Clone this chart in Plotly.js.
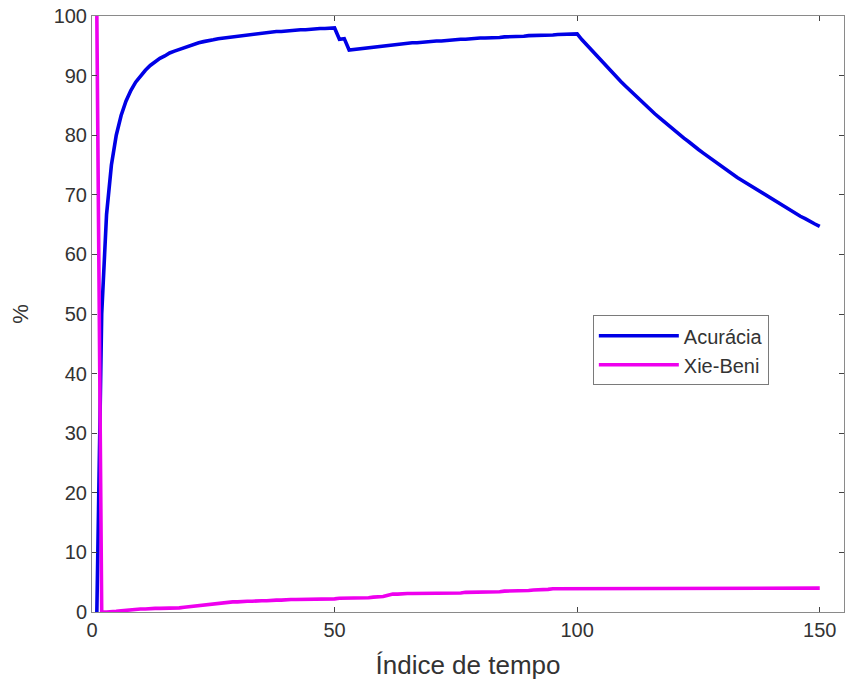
<!DOCTYPE html>
<html>
<head>
<meta charset="utf-8">
<script src="https://cdn.plot.ly/plotly-3.0.1.min.js"></script>
<style>
  html, body { margin: 0; padding: 0; background: #ffffff; }
  #chart { width: 846px; height: 690px; }
</style>
</head>
<body>
<div id="chart"></div>
<script>
// Time index (1..150)
const timeIndex = Array.from({ length: 150 }, (_, i) => i + 1);

// Accuracy (%) over time
const acuracia = [
  0, 50, 66.7, 75, 80, 83.3, 85.7, 87.5, 88.9, 90,
  90.9, 91.7, 92.3, 92.9, 93.3, 93.8, 94.1, 94.4, 94.7, 95,
  95.2, 95.5, 95.7, 95.8, 96, 96.2, 96.3, 96.4, 96.6, 96.7,
  96.8, 96.9, 97, 97.1, 97.1, 97.2, 97.3, 97.4, 97.4, 97.5,
  97.6, 97.6, 97.7, 97.7, 97.8, 97.8, 97.9, 97.9, 98, 98,
  96.1, 96.2, 94.3, 94.4, 94.5, 94.6, 94.7, 94.8, 94.9, 95.0,
  95.1, 95.2, 95.2, 95.3, 95.4, 95.5, 95.5, 95.6, 95.7, 95.7,
  95.8, 95.8, 95.9, 95.9, 96.0, 96.1, 96.1, 96.2, 96.2, 96.3,
  96.3, 96.3, 96.4, 96.4, 96.5, 96.5, 96.6, 96.6, 96.6, 96.7,
  96.7, 96.7, 96.8, 96.8, 96.8, 96.9, 96.9, 96.9, 97.0, 97.0,
  96.0, 95.1, 94.2, 93.3, 92.4, 91.5, 90.7, 89.8, 89.0, 88.2,
  87.4, 86.6, 85.8, 85.1, 84.3, 83.6, 82.9, 82.2, 81.5, 80.8,
  80.2, 79.5, 78.9, 78.2, 77.6, 77.0, 76.4, 75.8, 75.2, 74.6,
  74.0, 73.5, 72.9, 72.4, 71.9, 71.3, 70.8, 70.3, 69.8, 69.3,
  68.8, 68.3, 67.8, 67.4, 66.9, 66.4, 66.0, 65.5, 65.1, 64.7
];

// Xie-Beni index (%) over time
const xieBeni = [
  100, 0, 0, 0, 0.1, 0.2, 0.3, 0.4, 0.4, 0.5,
  0.5, 0.6, 0.6, 0.6, 0.6, 0.6, 0.7, 0.7, 0.8, 0.9,
  1.0, 1.1, 1.2, 1.3, 1.4, 1.5, 1.6, 1.6, 1.7, 1.7,
  1.8, 1.8, 1.8, 1.9, 1.9, 1.9, 2.0, 2.0, 2.0, 2.1,
  2.1, 2.1, 2.1, 2.2, 2.2, 2.2, 2.2, 2.2, 2.2, 2.2,
  2.3, 2.3, 2.3, 2.3, 2.4, 2.4, 2.4, 2.5, 2.5, 2.6,
  2.8, 3.0, 3.0, 3.1, 3.1, 3.1, 3.1, 3.1, 3.1, 3.2,
  3.2, 3.2, 3.2, 3.2, 3.2, 3.2, 3.3, 3.3, 3.3, 3.3,
  3.4, 3.4, 3.4, 3.4, 3.5, 3.5, 3.5, 3.5, 3.6, 3.6,
  3.7, 3.7, 3.8, 3.8, 3.9, 3.9, 4.0, 4.0, 4.0, 4.0,
  4.0, 4.0, 4.0, 4.0, 4.0, 4.0, 4.0, 4.0, 4.0, 4.0,
  4.0, 4.0, 4.0, 4.0, 4.0, 4.0, 4.0, 4.0, 4.0, 4.0,
  4.0, 4.0, 4.0, 4.0, 4.0, 4.0, 4.0, 4.0, 4.0, 4.0,
  4.0, 4.0, 4.0, 4.0, 4.0, 4.0, 4.0, 4.0, 4.0, 4.0,
  4.0, 4.0, 4.0, 4.0, 4.0, 4.0, 4.0, 4.0, 4.0, 4.0
];

const xTicks = [0, 50, 100, 150];
const yTicks = [0, 10, 20, 30, 40, 50, 60, 70, 80, 90, 100];

const FONT = '"Liberation Sans", Arial, Helvetica, sans-serif';
const AXIS_COLOR = '#8a8a8a';
const TEXT_COLOR = '#333333';

const traces = [
  {
    x: timeIndex, y: acuracia, name: 'Acurácia',
    type: 'scatter', mode: 'lines',
    line: { color: 'rgb(0,0,230)', width: 3.6 }
  },
  {
    x: timeIndex, y: xieBeni, name: 'Xie-Beni',
    type: 'scatter', mode: 'lines',
    line: { color: 'rgb(238,0,238)', width: 3.6 }
  }
];

const axisCommon = {
  showgrid: false, zeroline: false,
  showline: true, linecolor: AXIS_COLOR, linewidth: 1,
  mirror: 'allticks',
  ticks: 'inside', ticklen: 5, tickwidth: 1, tickcolor: '#444',
  tickfont: { family: FONT, size: 20, color: TEXT_COLOR }
};

const layout = {
  width: 846, height: 690,
  margin: { l: 92, r: 2, t: 16, b: 78 },
  paper_bgcolor: '#ffffff', plot_bgcolor: '#ffffff',
  showlegend: true,
  xaxis: Object.assign({}, axisCommon, {
    range: [0, 155], tickvals: xTicks,
    title: { text: 'Índice de tempo', font: { family: FONT, size: 26, color: TEXT_COLOR }, standoff: 15 }
  }),
  yaxis: Object.assign({}, axisCommon, {
    range: [0, 100], tickvals: yTicks,
    title: { text: '%', font: { family: FONT, size: 22, color: TEXT_COLOR }, standoff: 18 }
  }),
  legend: {
    x: 0.666, y: 0.498, xanchor: 'left', yanchor: 'top',
    bgcolor: '#ffffff', bordercolor: '#7a7a7a', borderwidth: 1,
    font: { family: FONT, size: 20, color: TEXT_COLOR },
    itemwidth: 80, tracegroupgap: 0
  }
};

Plotly.newPlot('chart', traces, layout, { displayModeBar: false, staticPlot: true });
</script>
</body>
</html>
